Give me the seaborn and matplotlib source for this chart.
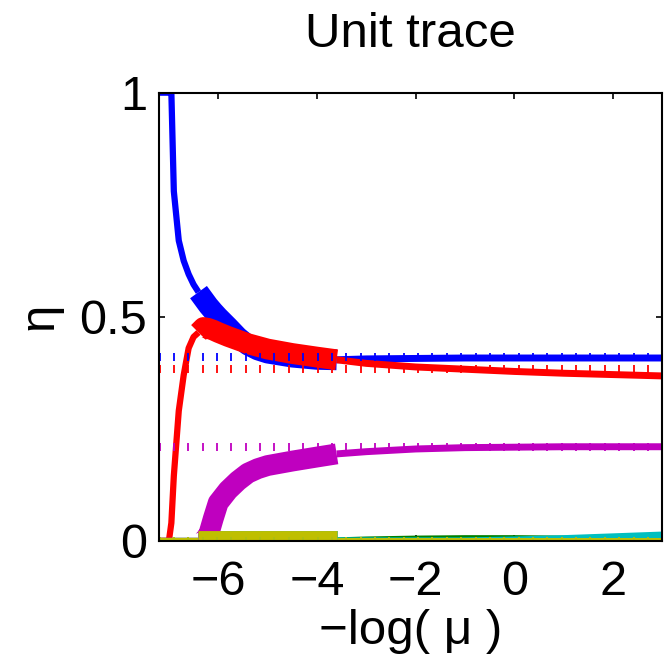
import numpy as np
import seaborn as sns
import matplotlib.pyplot as plt

sns.set_theme(style="white")
plt.rcParams['font.family'] = ['Liberation Sans', 'DejaVu Sans']
plt.rcParams['text.color'] = 'black'
plt.rcParams['axes.labelcolor'] = 'black'

# -log(mu) sample points
x_vals = np.array([-7.2, -7.0, -6.95, -6.9, -6.8, -6.7, -6.6, -6.5, -6.4, -6.3,
                   -6.2, -6.1, -6.0, -5.8, -5.6, -5.4, -5.2, -5.0, -4.5, -4.0,
                   -3.6, -3.0, -2.0, -1.0, 0.0, 1.0, 2.0, 3.0])

eta_blue = [1.0, 1.0, 1.0, 0.78, 0.67, 0.625, 0.595, 0.572, 0.555, 0.54,
            0.525, 0.512, 0.50, 0.478, 0.455, 0.437, 0.426, 0.419, 0.41, 0.405,
            0.404, 0.406, 0.407, 0.408, 0.408, 0.408, 0.408, 0.408]
eta_green = [0, 0, 0, 0, 0, 0, 0, 0, 0, 0,
             0, 0, 0, 0, 0, 0, 0, 0, 0, 0,
             0, 0.002, 0.004, 0.005, 0.005, 0.004, 0.004, 0.004]
eta_red = [0.0, 0.0, 0.04, 0.145, 0.29, 0.37, 0.43, 0.455, 0.465, 0.476,
           0.474, 0.47, 0.465, 0.456, 0.448, 0.44, 0.434, 0.428, 0.418, 0.41,
           0.404, 0.396, 0.388, 0.383, 0.378, 0.374, 0.371, 0.368]
eta_cyan = [0, 0, 0, 0, 0, 0, 0, 0, 0, 0,
            0, 0, 0, 0, 0, 0, 0, 0, 0, 0,
            0, 0, 0, 0, 0.002, 0.005, 0.009, 0.013]
eta_magenta = [0, 0, 0, 0, 0, 0, 0, 0, 0, 0,
               0.012, 0.05, 0.085, 0.113, 0.134, 0.151, 0.161, 0.168, 0.178, 0.187,
               0.194, 0.199, 0.205, 0.208, 0.209, 0.21, 0.21, 0.21]
eta_olive = [0] * len(x_vals)

# limiting values (dotted)
ref_levels = [0.41, 0.0, 0.384, 0.0, 0.21, 0.0]

series = [eta_blue, eta_green, eta_red, eta_cyan, eta_magenta, eta_olive]
colors = ['#0000ff', '#008000', '#ff0000', '#00bfbf', '#bf00bf', '#bfbf00']

thick_lo, thick_hi = -6.4, -3.6

fig = plt.figure(figsize=(6.71, 6.62), dpi=100)
ax = fig.add_axes([0.237, 0.183, 0.750, 0.677])

before = x_vals <= thick_lo
mid = (x_vals >= thick_lo) & (x_vals <= thick_hi)
after = x_vals >= thick_hi

for y, c in zip(series, colors):
    y = np.asarray(y, dtype=float)
    for mask, lw in [(before, 4.5), (after, 5.0), (mid, 15)]:
        sns.lineplot(x=x_vals[mask], y=y[mask], color=c, linewidth=lw,
                     errorbar=None, sort=False, ax=ax, solid_capstyle='butt')

xs_ref = np.linspace(-7.19, 3, 36)
for lev, c in zip(ref_levels, colors):
    ax.plot(xs_ref, np.full_like(xs_ref, lev), ls='none', marker='|',
            ms=5.5, mew=1.3, color=c)

ax.set_xlim(-7.2, 3)
ax.set_ylim(0, 1)
ax.set_xticks([-6, -4, -2, 0, 2])
ax.set_yticks([0, 0.5, 1])
ax.set_yticklabels(['0', '0.5', '1'])

for s in ax.spines.values():
    s.set_color('black')
    s.set_linewidth(1.5)
ax.tick_params(direction='in', length=4, width=1.2, colors='black',
               top=True, right=True, bottom=True, left=True, labelsize=35)
ax.tick_params(axis='x', pad=14)
ax.tick_params(axis='y', pad=8.5)

ax.set_title('Unit trace', fontsize=35.5, pad=33, color='black')
ax.set_xlabel('\u2212log( \u03bc )', fontsize=35.5, labelpad=3)
ax.set_ylabel('\u03b7', fontsize=35.5, labelpad=12)

fig.savefig('out.png', dpi=100)
